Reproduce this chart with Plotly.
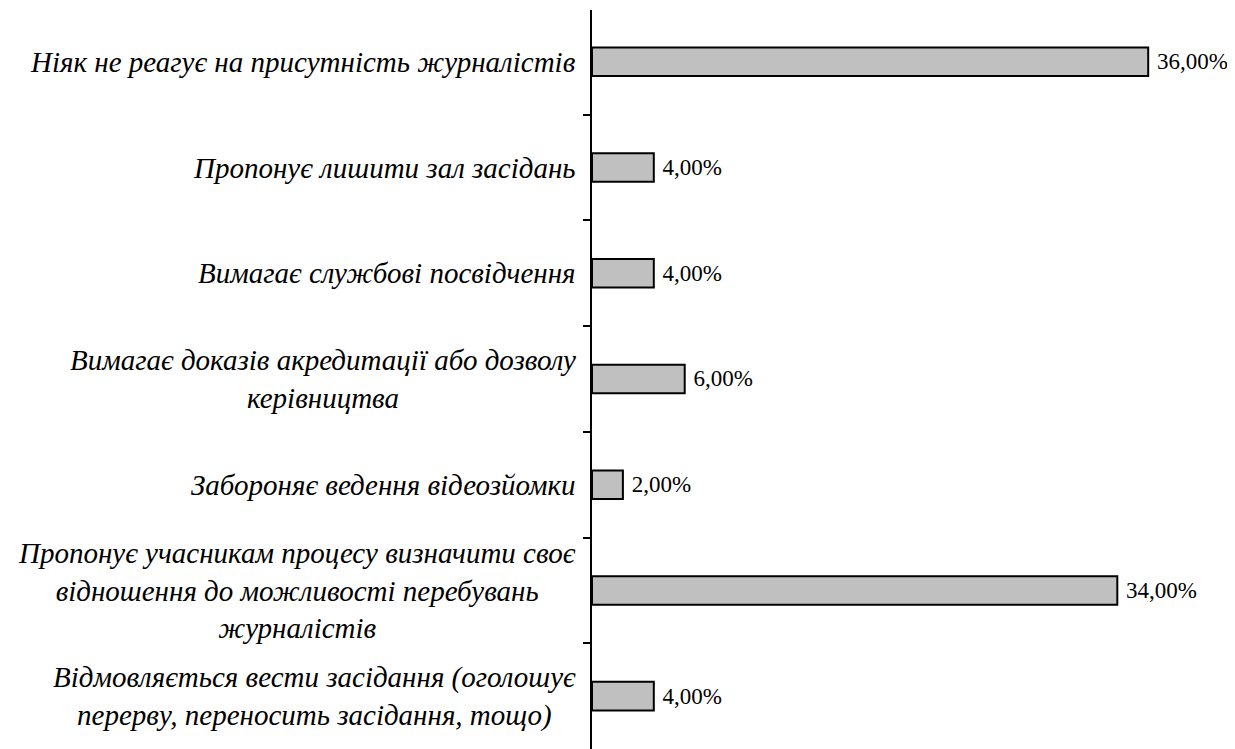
import plotly.graph_objects as go

categories = [
    "Ніяк не реагує на присутність журналістів",
    "Пропонує лишити зал засідань",
    "Вимагає службові посвідчення",
    "Вимагає доказів акредитації або дозволу<br>керівництва",
    "Забороняє ведення відеозйомки",
    "Пропонує учасникам процесу визначити своє<br>відношення до можливості перебувань<br>журналістів",
    "Відмовляється вести засідання (оголошує<br>перерву, переносить засідання, тощо)",
]
values = [36, 4, 4, 6, 2, 34, 4]
value_labels = [f"{v:.2f}".replace(".", ",") + "%" for v in values]

SERIF = "Liberation Serif"

fig = go.Figure()
fig.add_trace(go.Bar(
    y=categories,
    x=values,
    orientation="h",
    marker=dict(color="#c0c0c0", line=dict(color="black", width=2)),
    text=value_labels,
    texttemplate=" %{text}",
    textposition="outside",
    textfont=dict(family=SERIF, size=23, color="black"),
    cliponaxis=False,
    width=0.27,
))

for c in categories:
    fig.add_annotation(
        x=0, y=c, xref="x", yref="y",
        text=c,
        showarrow=False,
        xanchor="right", yanchor="middle",
        align="center",
        xshift=-14,
        font=dict(family=SERIF, size=29, color="black", style="italic"),
    )

fig.update_layout(
    width=1235, height=749,
    margin=dict(l=584, r=33, t=2, b=8),
    plot_bgcolor="white", paper_bgcolor="white",
    showlegend=False,
    bargap=0.73,
    uniformtext=dict(minsize=23, mode="show"),
)
fig.update_xaxes(range=[0, 40], visible=False)
fig.update_yaxes(
    range=[6.5, -0.49],
    showticklabels=False,
    showline=True, linecolor="black", linewidth=2,
    ticks="outside", tickson="boundaries", ticklen=7, tickwidth=2, tickcolor="black",
    showgrid=False, zeroline=False,
)

fig.write_html("out.html")
